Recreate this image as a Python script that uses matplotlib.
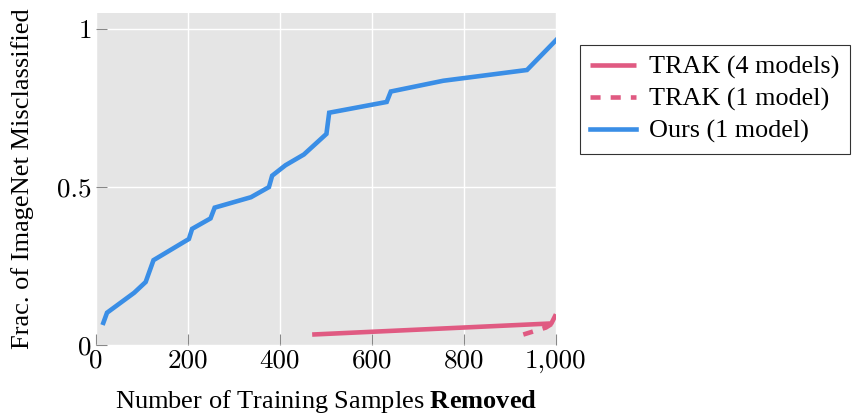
import matplotlib
matplotlib.use("Agg")
import matplotlib.pyplot as plt

plt.rcParams["mathtext.fontset"] = "custom"
plt.rcParams["mathtext.rm"] = "Liberation Serif"
plt.rcParams["mathtext.bf"] = "Liberation Serif:bold"

# Data
ours_x = [16, 24, 83, 108, 125, 202, 209, 249, 258, 337, 376, 383, 412, 452, 501, 507, 632, 641, 755, 937, 1000]
ours_y = [0.070, 0.102, 0.165, 0.199, 0.268, 0.335, 0.367, 0.400, 0.434, 0.467, 0.499, 0.535, 0.568, 0.602, 0.667, 0.734, 0.768, 0.801, 0.835, 0.869, 0.963]

trak4_x = [470, 990, 1000]
trak4_y = [0.033, 0.068, 0.097]

trak1_x = [929, 978, 1000]
trak1_y = [0.033, 0.055, 0.075]

xticks = [0, 200, 400, 600, 800, 1000]
xtick_labels = ["0", "200", "400", "600", "800", "1,000"]
yticks = [0, 0.5, 1]
ytick_labels = ["0", "0.5", "1"]

blue = "#3a8ee6"
pink = "#e05a82"

fig = plt.figure(figsize=(8.54, 4.17), dpi=100)
ax = fig.add_axes([0.1124, 0.1727, 0.5386, 0.7968])
ax.set_facecolor("#e5e5e5")
for s in ax.spines.values():
    s.set_visible(False)

ax.plot(trak4_x, trak4_y, color=pink, lw=3.3, label="TRAK (4 models)", solid_capstyle="butt")
ax.plot(trak1_x, trak1_y, color=pink, lw=3.3, ls=(0, (2.2, 2.2)), label="TRAK (1 model)")
ax.plot(ours_x, ours_y, color=blue, lw=3.3, label="Ours (1 model)", solid_joinstyle="miter")

ax.set_xlim(0, 1000)
ax.set_ylim(0, 1.05)
ax.grid(True, color="white", lw=1.0)
ax.set_axisbelow(True)

ax.set_xticks(xticks)
ax.set_xticklabels(xtick_labels, family="cmr10", fontsize=19.5)
ax.set_yticks(yticks)
ax.set_yticklabels(ytick_labels, family="cmr10", fontsize=19.5)
ax.tick_params(direction="in", length=8, width=0.8, color="#888888", pad=3)

ax.set_xlabel("Number of Training Samples $\\mathbf{Removed}$", family="Liberation Serif", fontsize=19, labelpad=11)
ax.set_ylabel("Frac. of ImageNet Misclassified", family="Liberation Serif", fontsize=19, labelpad=17)

leg = ax.legend(loc="upper left", bbox_to_anchor=(580 / 854, 1 - 45 / 417), bbox_transform=fig.transFigure,
                borderaxespad=0, frameon=True, fancybox=False,
                edgecolor="black", prop={"family": "Liberation Serif", "size": 18.8},
                handlelength=1.75, borderpad=0.4, labelspacing=0.32, handletextpad=0.5)
leg.get_frame().set_linewidth(0.8)

fig.savefig("out.png", dpi=100)
